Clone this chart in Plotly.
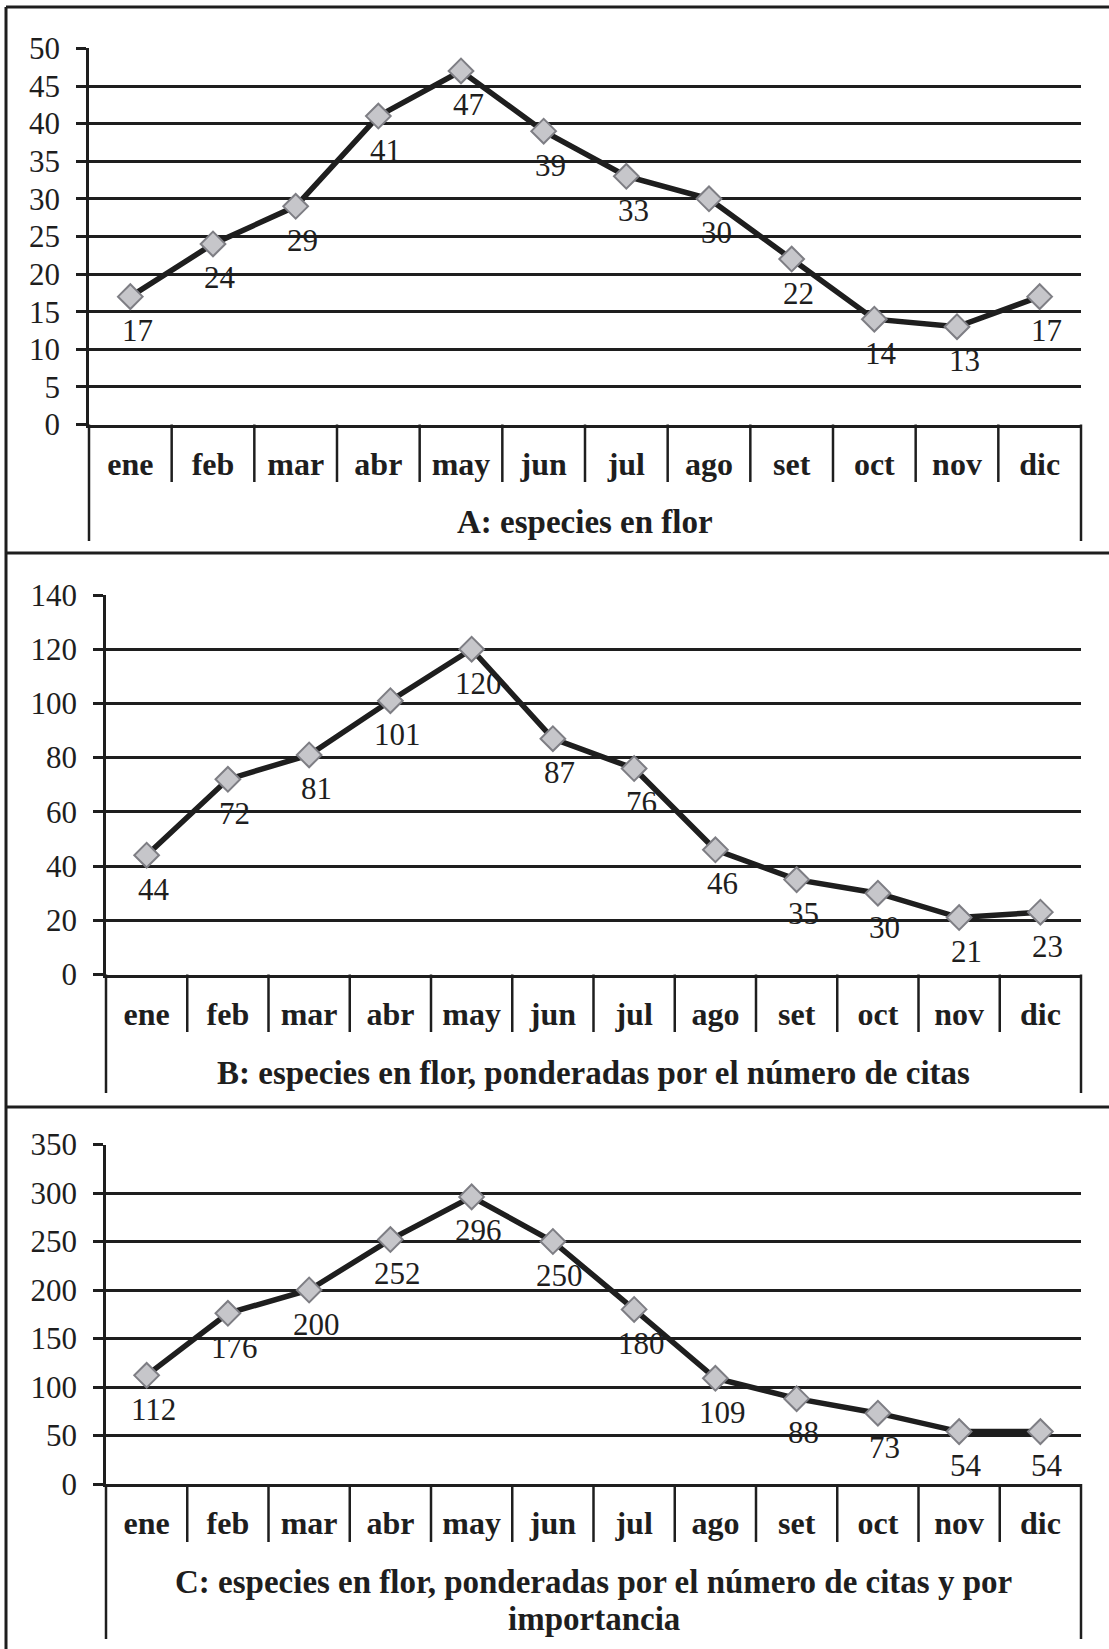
import plotly.graph_objects as go

months = ["ene", "feb", "mar", "abr", "may", "jun", "jul", "ago", "set", "oct", "nov", "dic"]
vals_a = [17, 24, 29, 41, 47, 39, 33, 30, 22, 14, 13, 17]
vals_b = [44, 72, 81, 101, 120, 87, 76, 46, 35, 30, 21, 23]
vals_c = [112, 176, 200, 252, 296, 250, 180, 109, 88, 73, 54, 54]
title_a = ["A: especies en flor"]
title_b = ["B: especies en flor, ponderadas por el número de citas"]
title_c = ["C: especies en flor, ponderadas por el número de citas y por", "importancia"]

W, H = 1109, 1649
SERIF = "Liberation Serif"
INK = "#1e1e1e"


def fx(px):
    return px / W


def fy(py):
    return 1 - py / H


# panel geometry in pixels
panels = [
    dict(vals=vals_a, title=title_a, rng=[0, 50], dtick=5, x0=89, x1=1081, top=48.4, bot=424.5,
         div=482, edge=541, ty=522),
    dict(vals=vals_b, title=title_b, rng=[0, 140], dtick=20, x0=106, x1=1081, top=595, bot=974.5,
         div=1032, edge=1093, ty=1073),
    dict(vals=vals_c, title=title_c, rng=[0, 350], dtick=50, x0=106, x1=1081, top=1144.5, bot=1484,
         div=1542, edge=1639, ty=1582),
]
LINE_GAP = 37

fig = go.Figure()
shapes = []
annotations = []

for i, p in enumerate(panels, start=1):
    xa = "x" if i == 1 else f"x{i}"
    ya = "y" if i == 1 else f"y{i}"
    fig.add_trace(go.Scatter(
        x=months, y=p["vals"], xaxis=xa, yaxis=ya, mode="lines+markers",
        line=dict(color=INK, width=5.5),
        marker=dict(symbol="diamond", size=19, color="#c6c6ca",
                    line=dict(color="#7e7e84", width=2)),
        showlegend=False, cliponaxis=False, hoverinfo="skip",
    ))
    for m, v in zip(months, p["vals"]):
        annotations.append(dict(x=m, y=v, xref=xa, yref=ya, text=str(v), showarrow=False,
                                xshift=7, yshift=-34, font=dict(family=SERIF, size=31, color=INK)))
    xkey = "xaxis" if i == 1 else f"xaxis{i}"
    ykey = "yaxis" if i == 1 else f"yaxis{i}"
    fig.layout[xkey] = dict(
        domain=[fx(p["x0"]), fx(p["x1"])], anchor=ya, type="category", automargin=False,
        range=[-0.5, len(months) - 0.5], showgrid=False, zeroline=False,
        showline=True, linecolor=INK, linewidth=2.5, ticks="",
        ticklabelstandoff=9,
        tickfont=dict(family=SERIF, size=32, color=INK, weight="bold"),
    )
    fig.layout[ykey] = dict(
        domain=[fy(p["bot"]), fy(p["top"])], anchor=xa, range=p["rng"], dtick=p["dtick"],
        automargin=False,
        showgrid=True, gridcolor=INK, gridwidth=2.5, zeroline=False,
        showline=True, linecolor=INK, linewidth=2.5, ticks="outside", ticklen=10,
        tickwidth=2.5, tickcolor=INK, ticklabelstandoff=10,
        tickfont=dict(family=SERIF, size=31, color=INK),
    )
    # category dividers
    for k in range(len(months) - 1):
        shapes.append(dict(type="line", xref=xa, yref="paper", x0=k + 0.5, x1=k + 0.5,
                           y0=fy(p["bot"]), y1=fy(p["div"]), line=dict(color=INK, width=2.5)))
    # outer edges of the category table
    for ex in (0, 1):
        shapes.append(dict(type="line", xref=f"{xa} domain", yref="paper", x0=ex, x1=ex,
                           y0=fy(p["bot"]), y1=fy(p["edge"]), line=dict(color=INK, width=2.5)))
    for li, line_text in enumerate(p["title"]):
        annotations.append(dict(x=0.5, y=fy(p["ty"] + li * LINE_GAP), xref=f"{xa} domain", yref="paper",
                                text=line_text, showarrow=False, xanchor="center", yanchor="middle",
                                font=dict(family=SERIF, size=33, color=INK, weight="bold")))

# frame
frame = INK
shapes.append(dict(type="line", xref="paper", yref="paper", x0=fx(6), x1=1, y0=fy(7), y1=fy(7),
                   line=dict(color=frame, width=3)))
shapes.append(dict(type="line", xref="paper", yref="paper", x0=fx(6), x1=fx(6), y0=fy(7), y1=0,
                   line=dict(color=frame, width=3)))
for sy in (553, 1107):
    shapes.append(dict(type="line", xref="paper", yref="paper", x0=fx(6), x1=1, y0=fy(sy), y1=fy(sy),
                       line=dict(color=frame, width=3)))

fig.update_layout(
    width=W, height=H, margin=dict(l=0, r=0, t=0, b=0, pad=0, autoexpand=False),
    paper_bgcolor="white", plot_bgcolor="white",
    shapes=shapes, annotations=annotations,
    font=dict(family=SERIF, color=INK),
)

fig.write_html("out.html", config={"displayModeBar": False},
               post_script="document.body.style.margin='0px';")
